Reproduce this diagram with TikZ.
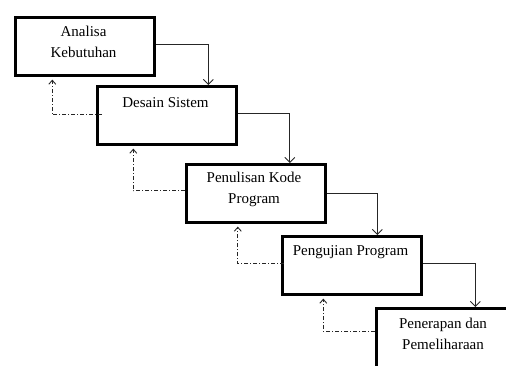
\documentclass[tikz,border=0pt]{standalone}
\usepackage{fontspec}
\setmainfont{Liberation Serif}
\usetikzlibrary{arrows.meta}
\begin{document}
\begin{tikzpicture}[x=1pt,y=-1pt,
  stage/.style={draw=black,line width=2.6pt,minimum width=139pt,minimum height=58pt,inner sep=0pt,anchor=north west},
  stagetext/.style={align=center,inner sep=0pt,font=\fontsize{15}{21}\selectfont},
  flow/.style={draw=black!85,line width=0.8pt,-{Straight Barb[length=5pt,width=10pt,line width=0.9pt]}},
  back/.style={draw=black!85,line width=0.8pt,dash pattern=on 4pt off 2pt on 1pt off 2pt,-{Straight Barb[length=4pt,width=7pt,line width=0.9pt]}}]
\useasboundingbox (0,0) rectangle (506,365);
\clip (0,0) rectangle (506,365);
\node[stage] (B1) at (14,16) {};
\node[stage] (B2) at (96,85) {};
\node[stage] (B3) at (185,163) {};
\node[stage] (B4) at (281,235) {};
\node[stage,minimum height=70pt] (B5) at (375,307) {};
\node[stagetext] (T1) at (83.5,42) {Analisa\\Kebutuhan};
\node[stagetext] (T2) at (165.5,103) {Desain Sistem};
\node[stagetext] (T3) at (254,189.5) {Penulisan Kode\\Program};
\node[stagetext] (T4) at (350.5,252) {Pengujian Program};
\node[stagetext] (T5) at (443,334) {Penerapan dan\\Pemeliharaan};
\draw[flow] ([yshift=2pt]B1.east) -| ([xshift=41.5pt]B2.north);
\draw[flow] ([yshift=1.5pt]B2.east) -| ([xshift=34pt]B3.north);
\draw[flow] (B3.east) -| ([xshift=25.5pt]B4.north);
\draw[flow] ([yshift=1.5pt]B4.east) -| ([xshift=29.5pt]B5.north);
\draw[back] ([xshift=6pt,yshift=0.5pt]B2.west) -| ([xshift=-32.5pt,yshift=-3pt]B1.south);
\draw[back] ([xshift=0pt,yshift=2.5pt]B3.west) -| ([xshift=-33.5pt,yshift=-3pt]B2.south);
\draw[back] ([xshift=3pt,yshift=1.5pt]B4.west) -| ([xshift=-18pt,yshift=-3pt]B3.south);
\draw[back] ([xshift=0pt,yshift=2.5pt]B5.west |- 0,334) -| ([xshift=-28.5pt,yshift=-3pt]B4.south);
\end{tikzpicture}
\end{document}
